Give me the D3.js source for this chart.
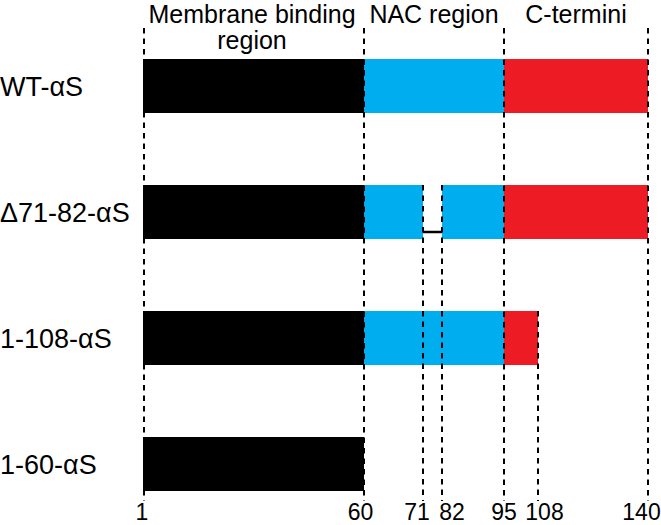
<!DOCTYPE html>
<html>
<head>
<meta charset="utf-8">
<script src="https://cdn.jsdelivr.net/npm/d3@7"></script>
<style>
  html, body { margin: 0; padding: 0; background: #fff; }
  svg { display: block; font-family: "Liberation Sans", Arial, sans-serif; }
</style>
</head>
<body>
<svg id="chart" width="661" height="525"></svg>
<script>
// ---- data ----
const rows = ["WT-\u03B1S", "\u039471-82-\u03B1S", "1-108-\u03B1S", "1-60-\u03B1S"];
const segStart = [
  [1, 60, 95],
  [1, 60, 82, 95],
  [1, 60, 95],
  [1]
];
const segEnd = [
  [60, 95, 140],
  [60, 71, 95, 140],
  [60, 95, 108],
  [60]
];
const segRegion = [
  ["membrane", "nac", "cterm"],
  ["membrane", "nac", "nac", "cterm"],
  ["membrane", "nac", "cterm"],
  ["membrane"]
];
const deletionRow = "\u039471-82-\u03B1S";
const deletion = [71, 82];
const regionNames = ["Membrane binding\nregion", "NAC region", "C-termini"];
const regionBounds = [[1, 60], [60, 95], [95, 140]];
const tickValues = [1, 60, 71, 82, 95, 108, 140];
const guideTops = { 1: null, 60: null, 95: null, 140: null, 71: "\u039471-82-\u03B1S", 82: "\u039471-82-\u03B1S", 108: "1-108-\u03B1S" };

// ---- scales ----
const svg = d3.select("#chart");
// schematic (piecewise) residue scale
const x = d3.scaleLinear()
  .domain([1, 60, 71, 82, 95, 108, 140])
  .range([144, 364, 423, 442, 504, 538, 648])
  .interpolate(d3.interpolateRound);
const y = d3.scalePoint().domain(rows).range([86, 464]);
const barH = 54;
const color = d3.scaleOrdinal()
  .domain(["membrane", "nac", "cterm"])
  .range(["#000000", "#00AEEF", "#ED1C24"]);

// ---- bars ----
const segs = [];
rows.forEach((r, i) => {
  segStart[i].forEach((s, j) => {
    segs.push({ row: r, s: s, e: segEnd[i][j], region: segRegion[i][j] });
  });
});
svg.append("g").selectAll("rect").data(segs).join("rect")
  .attr("x", d => x(d.s) - (d.s === 1 ? 1 : 0))
  .attr("y", d => y(d.row) - barH / 2)
  .attr("width", d => x(d.e) - x(d.s) + (d.s === 1 ? 1 : 0))
  .attr("height", barH)
  .attr("fill", d => color(d.region));

// deletion connector
svg.append("line")
  .attr("x1", x(deletion[0])).attr("x2", x(deletion[1]))
  .attr("y1", y(deletionRow) + barH / 2 - 7)
  .attr("y2", y(deletionRow) + barH / 2 - 7)
  .attr("stroke", "#000").attr("stroke-width", 2.5);

// ---- dashed guides ----
const guideBottom = 501;
svg.append("g").selectAll("line").data(tickValues).join("line")
  .attr("x1", d => x(d)).attr("x2", d => x(d))
  .attr("y1", d => guideTops[d] ? y(guideTops[d]) - barH / 2 : 28)
  .attr("y2", guideBottom)
  .attr("stroke", "#000")
  .attr("stroke-width", 2)
  .attr("stroke-dasharray", "5.5,5");

// ---- tick labels ----
const nudge = { 1: -2, 60: -3.5, 71: -6, 82: 10, 95: 0, 108: 6.5, 140: -6.5 };
svg.append("g").selectAll("text").data(tickValues).join("text")
  .attr("x", d => x(d) + nudge[d])
  .attr("y", 520)
  .attr("text-anchor", "middle")
  .attr("font-size", 23)
  .attr("fill", "#000")
  .text(d => d);

// ---- row labels ----
svg.append("g").selectAll("text").data(rows).join("text")
  .attr("x", 0)
  .attr("y", d => y(d) + 9.5)
  .attr("font-size", 27)
  .attr("fill", "#000")
  .text(d => d);

// ---- region headers ----
const hdr = svg.append("g").selectAll("text").data(regionNames).join("text")
  .attr("text-anchor", "middle")
  .attr("font-size", 25)
  .attr("fill", "#000")
  .attr("transform", (d, i) => `translate(${(x(regionBounds[i][0]) + x(regionBounds[i][1])) / 2 + (i === 0 ? -2 : 0)},23)`);
hdr.selectAll("tspan").data(d => d.split("\n")).join("tspan")
  .attr("x", 0)
  .attr("dy", (d, i) => i === 0 ? 0 : 26)
  .text(d => d);
</script>
</body>
</html>
